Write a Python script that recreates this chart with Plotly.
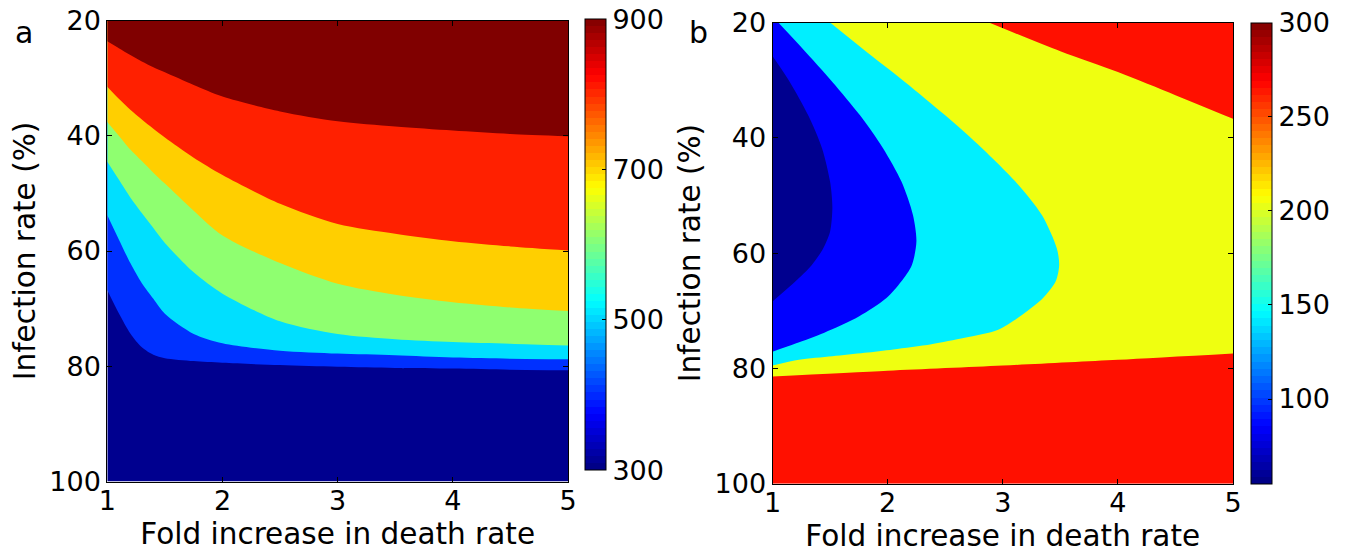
import plotly.graph_objects as go

# ---------------- data ----------------
X_RANGE = [1, 5]
Y_RANGE = [20, 100]
X_TICKS = [1, 2, 3, 4, 5]
Y_TICKS = [20, 40, 60, 80, 100]

# Panel a: contour boundaries (infection rate at given fold increase)
XA = [1.0, 1.1, 1.2, 1.3, 1.4, 1.5, 1.75, 2.0, 2.5, 3.0, 3.5, 4.0, 4.5, 5.0]
A_B900 = [23.6, 24.8, 26.0, 27.1, 28.1, 29.0, 31.2, 33.2, 35.8, 37.5, 38.4, 39.1, 39.7, 40.1]
A_B800 = [31.5, 33.6, 35.5, 37.2, 38.8, 40.3, 43.8, 46.8, 51.8, 55.3, 57.0, 58.3, 59.2, 59.9]
A_B700 = [37.6, 40.0, 42.4, 44.4, 46.4, 48.3, 53.0, 57.3, 62.1, 65.7, 67.6, 68.9, 69.8, 70.4]
A_B600 = [44.5, 47.6, 50.7, 53.4, 56.0, 58.6, 63.7, 67.4, 72.2, 74.4, 75.3, 75.8, 76.1, 76.4]
A_B500 = [53.8, 58.0, 62.1, 65.6, 68.3, 70.9, 74.4, 76.0, 77.3, 77.8, 78.1, 78.5, 78.7, 78.8]
A_B400 = [66.8, 70.8, 74.3, 76.7, 78.0, 78.6, 79.1, 79.4, 79.8, 80.1, 80.3, 80.4, 80.6, 80.7]
A_LEVELS = [300, 400, 500, 600, 700, 800, 900]
A_CBAR = [300, 900]
A_CTICKS = [300, 500, 700, 900]

# Panel b: contour boundaries
B_RED_LOW_X = [1.0, 2.0, 3.0, 4.0, 5.0]
B_RED_LOW_Y = [81.4, 80.4, 79.5, 78.5, 77.4]
B_RED_TOP_X = [2.88, 3.5, 4.0, 4.5, 5.0]
B_RED_TOP_Y = [20.0, 25.0, 28.6, 32.6, 36.7]
B_CYAN_X = [1.50, 1.78, 2.15, 2.50, 2.82, 3.11, 3.34, 3.47, 3.49, 3.46, 3.35, 3.17, 2.96, 2.67, 2.38, 2.05, 1.80, 1.52, 1.23, 1.00]
B_CYAN_Y = [20.0, 24.5, 30.3, 36.1, 41.8, 47.6, 53.4, 59.2, 62.1, 64.9, 67.8, 70.7, 73.3, 74.7, 75.8, 76.7, 77.3, 77.9, 78.5, 79.5]
B_BLUE_X = [1.05, 1.26, 1.52, 1.76, 1.96, 2.12, 2.22, 2.25, 2.21, 2.12, 1.99, 1.75, 1.45, 1.20, 1.00]
B_BLUE_Y = [20.0, 24.5, 30.3, 36.1, 41.8, 47.6, 53.4, 58.0, 62.1, 64.9, 67.8, 71.0, 73.8, 75.7, 77.1]
B_NAVY_X = [1.00, 1.15, 1.31, 1.43, 1.50, 1.52, 1.50, 1.44, 1.34, 1.20, 1.00]
B_NAVY_Y = [25.8, 30.3, 36.1, 41.8, 47.6, 52.0, 56.3, 59.2, 62.1, 64.9, 68.4]
B_CBAR = [55, 300]
B_CTICKS = [100, 150, 200, 250, 300]

X_TITLE = "Fold increase in death rate"
Y_TITLE = "Infection rate (%)"
PANEL_LABELS = ["a", "b"]

# ---------------- styling ----------------
FONT = "DejaVu Sans"
TICK_SIZE = 27
TITLE_SIZE = 29.5


def jet_rgb(k, n=64):
    """MATLAB jet colormap row k (0-based) of n."""
    q = n / 4.0
    t = (k + 0.5) / q
    def ramp(v):
        return max(0.0, min(1.0, v))
    r = ramp(min(t - 1.5, 4.5 - t))
    g = ramp(min(t - 0.5, 3.5 - t))
    b = ramp(min(t + 0.5, 2.5 - t))
    return "rgb(%d,%d,%d)" % (round(r * 255), round(g * 255), round(b * 255))


JET = []
for k in range(64):
    c = jet_rgb(k)
    JET.append([k / 64, c])
    JET.append([(k + 1) / 64, c])

A_COLORS = ["#00008F", "#0030FF", "#00DFFF", "#8FFF70", "#FFCF00", "#FF2000", "#800000"]
B_COLORS = {"navy": "#00008F", "blue": "#0000FF", "cyan": "#00EFFF",
            "yellow": "#EFFF10", "red": "#FF1000"}

# The page body has an 8px margin; lay the figure out in page pixels minus that offset.
OFF = 8
W, H = 1348 - OFF, 557 - OFF


def fx(px):
    return (px - OFF) / W


def fy(py):
    return (H - (py - OFF)) / H


A_X = [fx(107.3), fx(568.0)]
A_Y = [fy(481.5), fy(20.5)]
B_X = [fx(772.5), fx(1233.0)]
B_Y = [fy(483.7), fy(22.5)]

fig = go.Figure()


def region(xs, ys, color, fill, xa, ya):
    fig.add_trace(go.Scatter(x=xs, y=ys, mode="lines", fill=fill,
                             fillcolor=color,
                             line=dict(width=0, color=color, shape="spline", smoothing=0.8),
                             hoverinfo="skip", showlegend=False,
                             xaxis=xa, yaxis=ya))


x0, x1 = X_RANGE
y0, y1 = Y_RANGE

# Panel a: layered regions (each fills everything above its boundary, toward y=0)
region([x0, x1], [y1, y1], A_COLORS[0], "tozeroy", "x", "y")
for bnd, col in zip([A_B400, A_B500, A_B600, A_B700, A_B800, A_B900], A_COLORS[1:]):
    region(XA, bnd, col, "tozeroy", "x", "y")

# Panel b: layered regions
region([x0, x1], [y1, y1], B_COLORS["red"], "tozeroy", "x2", "y2")
region(B_RED_LOW_X, B_RED_LOW_Y, B_COLORS["yellow"], "tozeroy", "x2", "y2")
region(B_RED_TOP_X, B_RED_TOP_Y, B_COLORS["red"], "tozeroy", "x2", "y2")
region(B_CYAN_X, B_CYAN_Y, B_COLORS["cyan"], "tozerox", "x2", "y2")
region(B_BLUE_X, B_BLUE_Y, B_COLORS["blue"], "tozerox", "x2", "y2")
region(B_NAVY_X, B_NAVY_Y, B_COLORS["navy"], "tozerox", "x2", "y2")


# Colorbars (via invisible marker traces)
def cbar_trace(rng, ticks, xa, ya, x_px, top_px, bot_px):
    fig.add_trace(go.Scatter(
        x=[x0], y=[y0], mode="markers", xaxis=xa, yaxis=ya,
        hoverinfo="skip", showlegend=False,
        marker=dict(size=0.1, opacity=0, color=[rng[0]], cmin=rng[0], cmax=rng[1],
                    colorscale=JET, showscale=True,
                    colorbar=dict(x=fx(x_px), xanchor="left", xpad=0, ypad=0,
                                  y=fy((top_px + bot_px) / 2), yanchor="middle",
                                  len=bot_px - top_px, lenmode="pixels",
                                  thickness=21, thicknessmode="pixels",
                                  outlinecolor="black", outlinewidth=1,
                                  tickvals=ticks, ticks="inside", ticklen=4,
                                  tickcolor="black", ticklabeloverflow="allow",
                                  tickfont=dict(family=FONT, size=TICK_SIZE, color="black")))))


cbar_trace(A_CBAR, A_CTICKS, "x", "y", 584.5, 19.5, 470.0)
cbar_trace(B_CBAR, B_CTICKS, "x2", "y2", 1250.5, 22.7, 483.7)

axis_common = dict(showline=True, linecolor="black", linewidth=1, mirror="ticks",
                   ticks="inside", ticklen=5, tickcolor="black", showgrid=False,
                   zeroline=False, tickfont=dict(family=FONT, size=TICK_SIZE, color="black"),
                   automargin=False, layer="above traces", ticklabeloverflow="allow")

fig.update_layout(
    width=W, height=H, margin=dict(l=0, r=0, t=0, b=0, autoexpand=False),
    paper_bgcolor="white", plot_bgcolor="white",
    font=dict(family=FONT, color="black"),
    xaxis=dict(domain=A_X, range=X_RANGE, tickvals=X_TICKS, anchor="y",
               title=dict(text=X_TITLE, font=dict(size=TITLE_SIZE), standoff=8),
               ticklabelstandoff=-5, **axis_common),
    yaxis=dict(domain=A_Y, range=Y_RANGE[::-1], tickvals=Y_TICKS, anchor="x",
               title=dict(text=Y_TITLE, font=dict(size=TITLE_SIZE), standoff=5),
               ticklabelstandoff=0, **axis_common),
    xaxis2=dict(domain=B_X, range=X_RANGE, tickvals=X_TICKS, anchor="y2",
                title=dict(text=X_TITLE, font=dict(size=TITLE_SIZE), standoff=8),
                ticklabelstandoff=-5, **axis_common),
    yaxis2=dict(domain=B_Y, range=Y_RANGE[::-1], tickvals=Y_TICKS, anchor="x2",
                title=dict(text=Y_TITLE, font=dict(size=TITLE_SIZE), standoff=5),
                ticklabelstandoff=0, **axis_common),
    annotations=[
        dict(text=PANEL_LABELS[0], x=fx(24), y=fy(33), xref="paper", yref="paper",
             showarrow=False, font=dict(size=30, family=FONT), xanchor="center", yanchor="middle"),
        dict(text=PANEL_LABELS[1], x=fx(698), y=fy(33), xref="paper", yref="paper",
             showarrow=False, font=dict(size=30, family=FONT), xanchor="center", yanchor="middle"),
    ],
)

fig.write_html("out.html")
